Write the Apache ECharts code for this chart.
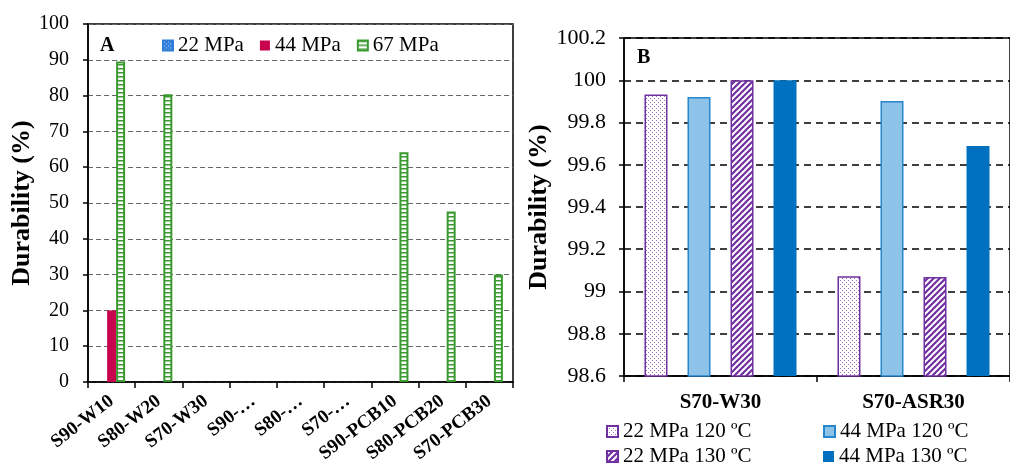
<!DOCTYPE html>
<html>
<head>
<meta charset="utf-8">
<script src="https://cdn.jsdelivr.net/npm/echarts@6/dist/echarts.min.js"></script>
<style>
  html, body { margin: 0; padding: 0; background: #fff; }
  #chart { width: 1010px; height: 466px; }
</style>
</head>
<body>
<div id="chart"></div>
<script>
// panel A
const catsA = ['S90-W10', 'S80-W20', 'S70-W30', 'S90-…', 'S80-…', 'S70-…', 'S90-PCB10', 'S80-PCB20', 'S70-PCB30'];
const a22 = [null, null, null, null, null, null, null, null, null];
const a44 = [20, null, null, null, null, null, null, null, null];
const a67 = [89.5, 80.4, null, null, null, null, 64.2, 47.6, 30];

// panel B
const catsB = ['S70-W30', 'S70-ASR30'];
const b22_120 = [99.932, 99.072];
const b44_120 = [99.921, 99.902];
const b22_130 = [100, 99.069];
const b44_130 = [100, 99.689];

const FONT = "'Liberation Serif', 'Times New Roman', serif";
const PURPLE = '#7030A0';

function pattern(w, h, draw) {
	const c = document.createElement('canvas');
	c.width = w;
	c.height = h;
	const ctx = c.getContext('2d');
	draw(ctx);
	return { image: c, repeat: 'repeat' };
}

const ladder = pattern(4, 4, ctx => {
	ctx.fillStyle = '#fff';
	ctx.fillRect(0, 0, 4, 4);
	ctx.fillStyle = '#3A9A30';
	ctx.fillRect(0, 0, 4, 1.5);
});

const blueDots = pattern(4, 4, ctx => {
	ctx.fillStyle = '#2F7ED8';
	ctx.fillRect(0, 0, 4, 4);
	ctx.fillStyle = '#cfe3fa';
	ctx.fillRect(1, 1, 1, 1);
	ctx.fillRect(3, 3, 1, 1);
});

const purpleDots = pattern(4, 4, ctx => {
	ctx.fillStyle = '#fff';
	ctx.fillRect(0, 0, 4, 4);
	ctx.fillStyle = '#9a6cc4';
	ctx.fillRect(0, 0, 1, 1);
	ctx.fillRect(2, 2, 1, 1);
});

const purpleStripes = pattern(6, 6, ctx => {
	ctx.fillStyle = '#fff';
	ctx.fillRect(0, 0, 6, 6);
	ctx.strokeStyle = PURPLE;
	ctx.lineWidth = 2.2;
	[[0, 6, 6, 0], [-3, 3, 3, -3], [3, 9, 9, 3]].forEach(l => {
		ctx.beginPath();
		ctx.moveTo(l[0], l[1]);
		ctx.lineTo(l[2], l[3]);
		ctx.stroke();
	});
});

const axisLine = { show: true, lineStyle: { color: '#000', width: 1.5 } };
const legendText = { fontFamily: FONT, fontSize: 21, color: '#000' };

function legendB(name, left, top) {
	return {
		left: left, top: top, padding: 0, icon: 'rect',
		itemWidth: 11, itemHeight: 11,
		textStyle: legendText,
		data: [name]
	};
}

const myChart = echarts.init(document.getElementById('chart'));
const option = {
	animation: false,
	textStyle: { fontFamily: FONT },
	title: [
		{ text: 'A', left: 95, top: 31, textStyle: { fontFamily: FONT, fontSize: 20, fontWeight: 'bold', color: '#000' } },
		{ text: 'B', left: 632, top: 43, textStyle: { fontFamily: FONT, fontSize: 20, fontWeight: 'bold', color: '#000' } }
	],
	legend: [
		{
			left: 162, top: 35, padding: 0, icon: 'rect',
			itemWidth: 10, itemHeight: 10, itemGap: 16,
			textStyle: legendText,
			data: ['22 MPa', '44 MPa', '67 MPa']
		},
		legendB('22 MPa 120 ºC', 606, 421),
		legendB('22 MPa 130 ºC', 606, 446),
		legendB('44 MPa 120 ºC', 823, 421),
		legendB('44 MPa 130 ºC', 823, 446)
	],
	grid: [
		{ left: 88, top: 24, right: 497, bottom: 84, show: true, borderColor: '#000', borderWidth: 1.5 },
		{ left: 624, top: 38, right: -9, bottom: 90, show: true, borderColor: '#000', borderWidth: 1.5 }
	],
	xAxis: [
		{
			gridIndex: 0, type: 'category', data: catsA,
			axisLine: axisLine,
			axisTick: { show: true, length: 6, lineStyle: { color: '#000', width: 1.5 } },
			axisLabel: { color: '#000', fontFamily: FONT, fontSize: 19, fontWeight: 'bold', rotate: 38, margin: 17, interval: 0 }
		},
		{
			gridIndex: 1, type: 'category', data: catsB,
			axisLine: axisLine,
			axisTick: { show: true, length: 6, lineStyle: { color: '#000', width: 1.5 } },
			axisLabel: { color: '#000', fontFamily: FONT, fontSize: 21, fontWeight: 'bold', margin: 16 }
		}
	],
	yAxis: [
		{
			gridIndex: 0, type: 'value', min: 0, max: 100, interval: 10,
			name: 'Durability (%)', nameLocation: 'middle', nameGap: 52,
			nameTextStyle: { color: '#000', fontFamily: FONT, fontSize: 26, fontWeight: 'bold' },
			axisLine: axisLine,
			axisTick: { show: true, length: 5, lineStyle: { color: '#000', width: 1.5 } },
			axisLabel: { color: '#000', fontFamily: FONT, fontSize: 20, margin: 19 },
			splitLine: { lineStyle: { color: '#666', type: [5, 3], width: 1.2 } }
		},
		{
			gridIndex: 1, type: 'value', min: 98.6, max: 100.2, interval: 0.2,
			name: 'Durability (%)', nameLocation: 'middle', nameGap: 34,
			nameTextStyle: { color: '#000', fontFamily: FONT, fontSize: 26, fontWeight: 'bold' },
			axisLine: axisLine,
			axisTick: { show: true, length: 5, lineStyle: { color: '#000', width: 1.5 } },
			axisLabel: { color: '#000', fontFamily: FONT, fontSize: 22, margin: 18 },
			splitLine: { lineStyle: { color: '#000', type: [7, 5], width: 1.5 } }
		}
	],
	series: [
		{
			name: '22 MPa', type: 'bar', xAxisIndex: 0, yAxisIndex: 0, data: a22,
			barWidth: 9, barGap: '0%',
			itemStyle: { color: blueDots, borderColor: '#2F7ED8', borderWidth: 1 }
		},
		{
			name: '44 MPa', type: 'bar', xAxisIndex: 0, yAxisIndex: 0, data: a44,
			barWidth: 9, barGap: '0%',
			itemStyle: { color: '#C8044E' }
		},
		{
			name: '67 MPa', type: 'bar', xAxisIndex: 0, yAxisIndex: 0, data: a67,
			barWidth: 9, barGap: '0%',
			itemStyle: { color: ladder, borderColor: '#3A9A30', borderWidth: 2 }
		},
		{
			name: '22 MPa 120 ºC', type: 'bar', xAxisIndex: 1, yAxisIndex: 1, data: b22_120,
			barWidth: 23, barGap: '87%',
			itemStyle: { color: purpleDots, borderColor: PURPLE, borderWidth: 1.5 }
		},
		{
			name: '44 MPa 120 ºC', type: 'bar', xAxisIndex: 1, yAxisIndex: 1, data: b44_120,
			barWidth: 23, barGap: '87%',
			itemStyle: { color: '#8DC3E8', borderColor: '#2787CC', borderWidth: 1.5 }
		},
		{
			name: '22 MPa 130 ºC', type: 'bar', xAxisIndex: 1, yAxisIndex: 1, data: b22_130,
			barWidth: 23, barGap: '87%',
			itemStyle: { color: purpleStripes, borderColor: PURPLE, borderWidth: 1.5 }
		},
		{
			name: '44 MPa 130 ºC', type: 'bar', xAxisIndex: 1, yAxisIndex: 1, data: b44_130,
			barWidth: 23, barGap: '87%',
			itemStyle: { color: '#0070C0' }
		}
	]
};

myChart.setOption(option);
</script>
</body>
</html>
